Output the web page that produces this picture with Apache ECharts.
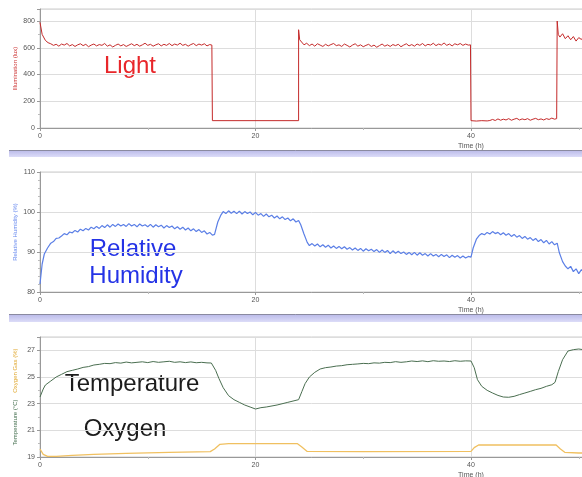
<!DOCTYPE html>
<html>
<head>
<meta charset="utf-8">
<script src="https://cdn.jsdelivr.net/npm/echarts@6/dist/echarts.min.js"></script>
<style>
  html, body { margin: 0; padding: 0; background: #fff; }
  #main { width: 582px; height: 477px; }
</style>
</head>
<body>
<div id="main"></div>
<script>
// time (h) / value pairs
var lightData = [[0,790],[0.2,700],[0.5,655],[0.75,638],
[1,630],[1.25,618],[1.5,626],[1.75,612],[2,628],[2.25,620],[2.5,632],[2.75,614],[3,624],[3.25,610],[3.5,622],[3.75,630],[4,616],[4.25,626],[4.5,608],[4.75,620],[5,628],[5.25,614],[5.5,624],[5.75,618],[6,632],[6.25,612],[6.5,622],[6.75,606],[7,618],[7.25,628],[7.5,614],[7.75,624],[8,610],[8.25,620],[8.5,630],[8.75,616],[9,626],[9.25,612],[9.5,622],[9.75,634],[10,618],[10.25,626],[10.5,612],[10.75,622],[11,630],[11.25,614],[11.5,626],[11.75,618],[12,632],[12.25,616],[12.5,628],[12.75,620],[13,634],[13.25,618],[13.5,626],[13.75,612],[14,624],[14.25,632],[14.5,616],[14.75,628],[15,620],[15.25,630],[15.5,614],[15.75,624],[15.95,620],
[16,55],[24,55],[24,735],[24.1,660],
[24.25,650],[24.5,622],[24.75,634],[25,616],[25.25,628],[25.5,612],[25.75,630],[26,620],[26.25,610],[26.5,626],[26.75,614],[27,624],[27.25,632],[27.5,616],[27.75,622],[28,610],[28.25,628],[28.5,618],[28.75,606],[29,620],[29.25,630],[29.5,612],[29.75,622],[30,608],[30.25,618],[30.5,626],[30.75,610],[31,620],[31.25,604],[31.5,616],[31.75,628],[32,612],[32.25,622],[32.5,610],[32.75,624],[33,616],[33.25,626],[33.5,608],[33.75,620],[34,630],[34.25,614],[34.5,624],[34.75,612],[35,628],[35.25,618],[35.5,632],[35.75,614],[36,626],[36.25,620],[36.5,634],[36.75,616],[37,628],[37.25,620],[37.5,636],[37.75,618],[38,628],[38.25,614],[38.5,630],[38.75,622],[39,632],[39.25,618],[39.5,628],[39.75,620],[39.95,622],
[40,55],[40.5,52],[41,55],[41.5,53],[41.75,56],
[42,64],[42.25,56],[42.5,68],[42.75,58],[43,66],[43.25,60],[43.5,70],[43.75,58],[44,66],[44.25,72],[44.5,60],[44.75,68],[45,62],[45.25,70],[45.5,58],[45.75,66],[46,72],[46.25,62],[46.5,68],[46.75,60],[47,70],[47.25,64],[47.5,74],[47.75,66],[47.95,70],
[48,800],[48.1,700],[48.25,680],[48.5,705],[48.75,668],[49,690],[49.25,660],[49.5,684],[49.75,650],[50,676],[50.25,662],[50.5,690],[50.75,664],[51,680]];

var humidityData = [[0,82],[0.2,87],[0.4,89.5],[0.7,91],[1,92.2],[1.25,92.6],[1.5,93.4],[1.75,93.5],
[2,94.0],[2.25,94.6],[2.5,94.3],[2.75,95.0],[3,94.8],[3.25,95.4],[3.5,95.0],[3.75,95.7],[4,95.3],[4.25,95.9],[4.5,95.5],[4.75,96.2],[5,95.8],[5.25,96.4],[5.5,95.9],[5.75,96.6],[6,96.1],[6.25,96.8],[6.5,96.2],[6.75,96.9],[7,96.4],[7.25,97.0],[7.5,96.5],[7.75,96.9],[8,96.4],[8.25,97.1],[8.5,96.5],[8.75,96.9],[9,96.3],[9.25,97.0],[9.5,96.5],[9.75,96.8],[10,96.3],[10.25,96.9],[10.5,96.2],[10.75,96.8],[11,96.3],[11.25,96.7],[11.5,96.0],[11.75,96.6],[12,96.1],[12.25,96.5],[12.5,95.8],[12.75,96.3],[13,95.7],[13.25,96.2],[13.5,95.5],[13.75,96.0],[14,95.3],[14.25,95.8],[14.5,95.1],[14.75,95.6],[15,94.9],[15.25,95.3],[15.5,94.5],[15.75,94.9],[16,94.2],[16.2,94.4],[16.5,97.5],[16.8,99.3],
[17,100.1],[17.25,99.6],[17.5,100.3],[17.75,99.7],[18,100.2],[18.25,99.6],[18.5,100.2],[18.75,99.5],[19,100.1],[19.25,99.6],[19.5,100.0],[19.75,99.3],[20,99.9],[20.25,99.2],[20.5,99.6],[20.75,98.9],[21,99.5],[21.25,98.8],[21.5,99.2],[21.75,98.5],[22,99.0],[22.25,98.3],[22.5,98.8],[22.75,98.1],[23,98.5],[23.25,97.8],[23.5,98.3],[23.75,97.5],[24,97.9],[24.2,96.8],[24.5,94.5],[24.8,92.4],
[25,91.6],[25.25,92.1],[25.5,91.5],[25.75,92.0],[26,91.3],[26.25,91.8],[26.5,91.2],[26.75,91.7],[27,91.0],[27.25,91.5],[27.5,90.9],[27.75,91.4],[28,90.8],[28.25,91.3],[28.5,90.7],[28.75,91.1],[29,90.5],[29.25,91.0],[29.5,90.4],[29.75,90.9],[30,90.2],[30.25,90.8],[30.5,90.3],[30.75,90.7],[31,90.1],[31.25,90.6],[31.5,89.9],[31.75,90.5],[32,89.9],[32.25,90.4],[32.5,89.6],[32.75,90.3],[33,89.7],[33.25,90.2],[33.5,89.6],[33.75,90.0],[34,89.4],[34.25,89.9],[34.5,89.3],[34.75,89.9],[35,89.2],[35.25,89.8],[35.5,89.2],[35.75,89.6],[36,89.0],[36.25,89.6],[36.5,89.0],[36.75,89.4],[37,88.8],[37.25,89.4],[37.5,88.9],[37.75,89.3],[38,88.6],[38.25,89.2],[38.5,88.7],[38.75,89.1],[39,88.5],[39.25,89.0],[39.5,88.5],[39.75,88.9],[40,88.7],
[40.2,91],[40.5,93.2],[40.75,94.1],[41,94.6],[41.25,94.3],[41.5,94.9],[41.75,94.5],[42,95.1],[42.25,94.6],[42.5,94.9],[42.75,94.3],[43,94.8],[43.25,94.2],[43.5,94.6],[43.75,93.9],[44,94.4],[44.25,93.7],[44.5,94.1],[44.75,93.4],[45,93.9],[45.25,93.2],[45.5,93.6],[45.75,92.9],[46,93.4],[46.25,92.6],[46.5,93.1],[46.75,92.3],[47,92.9],[47.25,92.0],[47.5,92.6],[47.75,91.8],[48,92.2],
[48.2,89.8],[48.5,87.6],[48.75,86.5],[49,85.8],[49.25,86.4],[49.5,85.1],[49.75,85.8],[50,84.6],[50.25,85.6],[50.5,85.0],[50.75,85.7],[51,85.2]];

var temperatureData = [[0,23.5],[0.3,24.1],[0.5,24.4],[1,24.7],[1.5,25],[2,25.2],[2.5,25.4],[3,25.5],[3.5,25.6],[4,25.72],[4.5,25.78],[5,25.9],[5.5,25.95],[6,26.02],[6.5,26.0],[7,26.08],[7.5,26.04],[8,26.12],[8.5,26.06],[9,26.1],[9.5,26.14],[10,26.08],[10.5,26.16],[11,26.1],[11.5,26.14],[12,26.18],[12.5,26.1],[13,26.14],[13.5,26.08],[14,26.13],[14.5,26.07],[15,26.1],[15.5,26.06],[15.9,26.05],
[16.3,25.5],[16.6,24.9],[17,24.2],[17.5,23.6],[18,23.3],[18.5,23.1],[19,22.9],[19.5,22.75],[20,22.6],[20.5,22.7],[21,22.75],[22,22.9],[23,23.1],[24,23.3],
[24.3,23.9],[24.6,24.5],[25,25],[25.5,25.35],[26,25.6],[26.5,25.7],[27,25.75],[27.5,25.82],[28,25.85],[28.5,25.92],[29,25.95],[29.5,25.98],[30,26.02],[30.5,26.0],[31,26.06],[31.5,26.04],[32,26.1],[32.5,26.08],[33,26.15],[33.5,26.1],[34,26.14],[34.5,26.2],[35,26.16],[35.5,26.21],[36,26.15],[36.5,26.22],[37,26.18],[37.5,26.2],[38,26.16],[38.5,26.22],[39,26.18],[39.5,26.21],[40,26.2],
[40.3,25.7],[40.6,24.8],[41,24.3],[41.5,24],[42,23.8],[42.5,23.62],[43,23.5],[43.5,23.48],[44,23.55],[44.5,23.68],[45,23.8],[45.5,23.92],[46,24.05],[46.5,24.15],[47,24.3],[47.5,24.42],[47.8,24.6],
[48.1,25.4],[48.5,26.3],[49,26.95],[49.5,27.05],[50,27.1],[50.5,27.04],[51,27.08]];

var oxygenData = [[0,19.6],[0.3,19.2],[0.7,19.05],[1.5,19.05],[3,19.12],[5,19.2],[8,19.27],[12,19.35],[15.8,19.4],[16.2,19.6],[16.7,19.95],[17.5,20],[23.9,20],[24.3,19.75],[24.8,19.42],[30,19.4],[40,19.42],[40.3,19.7],[40.7,19.9],[47.9,19.9],[48.3,19.6],[48.7,19.35],[50,19.3],[51,19.3]];

var dom = document.getElementById('main');
var myChart = echarts.init(dom, null, {renderer: 'canvas'});

function timeAxis(idx) {
    return {
        type: 'value', gridIndex: idx,
        min: 0, max: 80, interval: 20,
        name: 'Time (h)', nameLocation: 'middle', nameGap: 15,
        nameTextStyle: {fontSize: 7, color: '#555'},
        axisLine: {lineStyle: {color: '#999'}},
        axisTick: {length: 3, lineStyle: {color: '#999'}},
        minorTick: {show: true, splitNumber: 2, length: 2, lineStyle: {color: '#bbb'}},
        axisLabel: {fontSize: 7, color: '#555', margin: 5},
        splitLine: {show: true, lineStyle: {color: '#ddd'}}
    };
}

function valueAxis(idx, min, max, step, minor, showMax, name, nameColor) {
    return {
        type: 'value', gridIndex: idx,
        min: min, max: max, interval: step,
        name: name, nameLocation: 'middle', nameGap: 22, nameRotate: 90,
        nameMoveOverlap: false,
        nameTextStyle: {fontSize: 6, color: nameColor},
        axisLine: {show: true, lineStyle: {color: '#999'}},
        axisTick: {show: true, length: 3, lineStyle: {color: '#999'}},
        minorTick: {show: true, splitNumber: minor, length: 2, lineStyle: {color: '#bbb'}},
        axisLabel: {fontSize: 7, color: '#555', margin: 5, showMaxLabel: showMax},
        splitLine: {show: true, lineStyle: {color: '#ddd'}}
    };
}

var o2Axis = valueAxis(2, 19, 28, 2, 2, false,
    '{t|Temperature (°C)}    {o|Oxygen Gas (%)}', '#555');
o2Axis.nameTextStyle.rich = {
    t: {fontSize: 6, color: '#3f6b4a'},
    o: {fontSize: 6, color: '#e0a830'}
};

function panel(top, height) {
    return {left: 40, width: 862, top: top, height: height, outerBoundsMode: 'none',
            containLabel: false, show: true, borderColor: '#ccc', borderWidth: 1};
}

var bandFill = new echarts.graphic.LinearGradient(0, 0, 0, 1,
    [{offset: 0, color: '#b8b8e8'}, {offset: 1, color: '#dcdcf8'}]);
var bigFont = '24px "Liberation Sans", sans-serif';

option = {
    animation: false,
    backgroundColor: '#fff',
    grid: [panel(9, 119), panel(172, 120), panel(337, 120)],
    xAxis: [timeAxis(0), timeAxis(1), timeAxis(2)],
    yAxis: [
        valueAxis(0, 0, 890, 200, 2, false, 'Illumination (lux)', '#cc3333'),
        valueAxis(1, 80, 110, 10, 5, true, 'Relative Humidity (%)', '#6688ee'),
        o2Axis
    ],
    graphic: [
        {type: 'rect', shape: {x: 9, y: 150, width: 580, height: 7}, style: {fill: bandFill}},
        {type: 'line', shape: {x1: 9, y1: 150.5, x2: 582, y2: 150.5}, style: {stroke: '#8a8aa0', lineWidth: 1}},
        {type: 'rect', shape: {x: 9, y: 314, width: 580, height: 8}, style: {fill: bandFill}},
        {type: 'line', shape: {x1: 9, y1: 314.5, x2: 582, y2: 314.5}, style: {stroke: '#8a8aa0', lineWidth: 1}},
        {type: 'text', x: 130, y: 66, style: {text: 'Light', font: bigFont, fill: '#e8262a', align: 'center', verticalAlign: 'middle'}},
        {type: 'text', x: 133, y: 249, style: {text: 'Relative', font: bigFont, fill: '#2433e6', align: 'center', verticalAlign: 'middle'}},
        {type: 'text', x: 136, y: 276, style: {text: 'Humidity', font: bigFont, fill: '#2433e6', align: 'center', verticalAlign: 'middle'}},
        {type: 'text', x: 132, y: 384, style: {text: 'Temperature', font: bigFont, fill: '#1c1c1c', align: 'center', verticalAlign: 'middle'}},
        {type: 'text', x: 125, y: 429, style: {text: 'Oxygen', font: bigFont, fill: '#1c1c1c', align: 'center', verticalAlign: 'middle'}}
    ],
    series: [
        {name: 'Light', type: 'line', xAxisIndex: 0, yAxisIndex: 0, data: lightData,
         showSymbol: false, lineStyle: {color: '#c42a2a', width: 1}, itemStyle: {color: '#c42a2a'}},
        {name: 'Relative Humidity', type: 'line', xAxisIndex: 1, yAxisIndex: 1, data: humidityData,
         showSymbol: false, lineStyle: {color: '#5b7fe6', width: 1.2}, itemStyle: {color: '#5b7fe6'}},
        {name: 'Temperature', type: 'line', xAxisIndex: 2, yAxisIndex: 2, data: temperatureData,
         showSymbol: false, lineStyle: {color: '#4a6e50', width: 1}, itemStyle: {color: '#4a6e50'}},
        {name: 'Oxygen', type: 'line', xAxisIndex: 2, yAxisIndex: 2, data: oxygenData,
         showSymbol: false, lineStyle: {color: '#f0c060', width: 1.3}, itemStyle: {color: '#f0c060'}}
    ]
};

myChart.setOption(option);
</script>
</body>
</html>
